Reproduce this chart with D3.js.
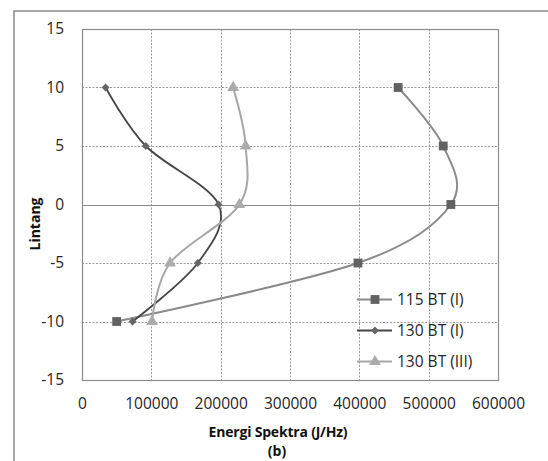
<!DOCTYPE html>
<html>
<head>
<meta charset="utf-8">
<script src="https://cdn.jsdelivr.net/npm/d3@7"></script>
<style>
  html, body { margin: 0; padding: 0; background: #fff; }
  svg { display: block; font-family: "Open Sans", "Liberation Sans", sans-serif; }
</style>
</head>
<body>
<svg id="chart" width="548" height="461"></svg>
<script>
// Latitude rows shared by every series
const lintang = [10, 5, 0, -5, -10];

// Spectral energy (J/Hz) per series, one value per latitude row
const energi115BT_I   = [456000, 521000, 532000, 398000, 50000];
const energi130BT_I   = [34000, 92000, 197000, 167000, 73000];
const energi130BT_III = [218000, 236000, 227000, 127000, 101000];

const seriesNames = ["115 BT (I)", "130 BT (I)", "130 BT (III)"];

// Tick values
const xTicks = [0, 100000, 200000, 300000, 400000, 500000, 600000];
const yTicks = [15, 10, 5, 0, -5, -10, -15];

const xTitle = "Energi Spektra (J/Hz)";
const subTitle = "(b)";
const yTitle = "Lintang";

const svg = d3.select("#chart");

// outer chart frame
svg.append("rect")
  .attr("x", 14).attr("y", 11)
  .attr("width", 700).attr("height", 700)
  .attr("fill", "none").attr("stroke", "#8c8c8c").attr("stroke-width", 1.5);

const plot = { left: 82, top: 29, right: 498, bottom: 380 };

const x = d3.scaleLinear().domain([0, 600000]).range([plot.left, plot.right]);
const y = d3.scaleLinear().domain([-15, 15]).range([plot.bottom, plot.top]);

// plain hyphen-minus labels
const fmt = d => String(d);

// dashed grid lines
const grid = svg.append("g");
grid.selectAll("line.gx")
  .data(xTicks.filter(v => v > 0 && v < 600000))
  .join("line")
  .attr("x1", d => Math.round(x(d)) + 0.5).attr("x2", d => Math.round(x(d)) + 0.5)
  .attr("y1", plot.top).attr("y2", plot.bottom)
  .attr("stroke", "#9a9a9a").attr("stroke-width", 1)
  .attr("stroke-dasharray", "2,1.5");
grid.selectAll("line.gy")
  .data(yTicks.filter(v => v !== 0 && v > -15 && v < 15))
  .join("line")
  .attr("y1", d => Math.round(y(d)) + 0.5).attr("y2", d => Math.round(y(d)) + 0.5)
  .attr("x1", plot.left).attr("x2", plot.right)
  .attr("stroke", "#9a9a9a").attr("stroke-width", 1)
  .attr("stroke-dasharray", "2,1.5");

// horizontal axis line crossing at latitude 0
svg.append("line")
  .attr("x1", plot.left).attr("x2", plot.right)
  .attr("y1", Math.round(y(0)) + 0.5).attr("y2", Math.round(y(0)) + 0.5)
  .attr("stroke", "#8c8c8c").attr("stroke-width", 1.2);

// plot area border
svg.append("rect")
  .attr("x", plot.left + 0.5).attr("y", plot.top + 0.5)
  .attr("width", plot.right - plot.left).attr("height", plot.bottom - plot.top)
  .attr("fill", "none").attr("stroke", "#8c8c8c").attr("stroke-width", 1.2);

// y tick labels
const yAxis = d3.axisLeft(y).tickValues(yTicks).tickSize(0).tickPadding(18)
  .tickFormat(fmt);
const gy = svg.append("g").attr("transform", `translate(${plot.left},0)`).call(yAxis);
gy.select(".domain").remove();
gy.selectAll("text")
  .attr("font-size", 15.5).attr("fill", "#262626")
  .attr("font-family", "'Open Sans', sans-serif");

// x tick labels, along the bottom of the plot area
const xAxis = d3.axisBottom(x).tickValues(xTicks).tickSize(0).tickPadding(18)
  .tickFormat(fmt);
const gx = svg.append("g").attr("transform", `translate(0,${plot.bottom})`).call(xAxis);
gx.select(".domain").remove();
gx.selectAll("text")
  .attr("font-size", 15.5).attr("fill", "#262626")
  .attr("font-family", "'Open Sans', sans-serif");

// axis titles
svg.append("text")
  .attr("x", 278).attr("y", 437)
  .attr("text-anchor", "middle")
  .attr("font-weight", "bold").attr("font-size", 14)
  .attr("letter-spacing", "-0.2").attr("fill", "#111")
  .text(xTitle);
svg.append("text")
  .attr("x", 277).attr("y", 456)
  .attr("text-anchor", "middle")
  .attr("font-weight", "bold").attr("font-size", 14).attr("fill", "#111")
  .text(subTitle);
svg.append("text")
  .attr("transform", "translate(40,224) rotate(-90)")
  .attr("text-anchor", "middle")
  .attr("font-weight", "bold").attr("font-size", 14).attr("fill", "#111")
  .text(yTitle);

// series definitions
const series = [
  { name: seriesNames[0], values: energi115BT_I,   line: "#8a8a8a", mark: "#626262", width: 2,   shape: "square" },
  { name: seriesNames[1], values: energi130BT_I,   line: "#454545", mark: "#666666", width: 1.8, shape: "diamond" },
  { name: seriesNames[2], values: energi130BT_III, line: "#a6a6a6", mark: "#ababab", width: 2,   shape: "triangle" }
];

const symbolOf = {
  square: d3.symbol().type(d3.symbolSquare).size(78),
  diamond: d3.symbol().type(d3.symbolDiamond2).size(40),
  triangle: d3.symbol().type(d3.symbolTriangle).size(60)
};

const lineGen = d3.line()
  .x(d => x(d.e))
  .y(d => y(d.lat))
  .curve(d3.curveCardinal.tension(0));

const gs = svg.append("g");
series.forEach(s => {
  const pts = lintang.map((lat, i) => ({ lat, e: s.values[i] }));
  gs.append("path")
    .attr("d", lineGen(pts))
    .attr("fill", "none")
    .attr("stroke", s.line)
    .attr("stroke-width", s.width);
  s.pts = pts;
});
series.forEach(s => {
  gs.selectAll(null).data(s.pts).join("path")
    .attr("transform", d => `translate(${x(d.e)},${y(d.lat)})`)
    .attr("d", symbolOf[s.shape]())
    .attr("fill", s.mark);
});

// legend
const legendY = [299.5, 330.5, 361.5];
const lg = svg.append("g");
series.forEach((s, i) => {
  const ly = legendY[i];
  lg.append("line")
    .attr("x1", 357).attr("x2", 392).attr("y1", ly).attr("y2", ly)
    .attr("stroke", s.line).attr("stroke-width", s.width);
  lg.append("path")
    .attr("transform", `translate(375,${ly})`)
    .attr("d", symbolOf[s.shape]())
    .attr("fill", s.mark);
  lg.append("text")
    .attr("x", 397).attr("y", ly).attr("dy", "0.35em")
    .attr("font-size", 15.5).attr("fill", "#262626")
    .text(s.name);
});
</script>
</body>
</html>
